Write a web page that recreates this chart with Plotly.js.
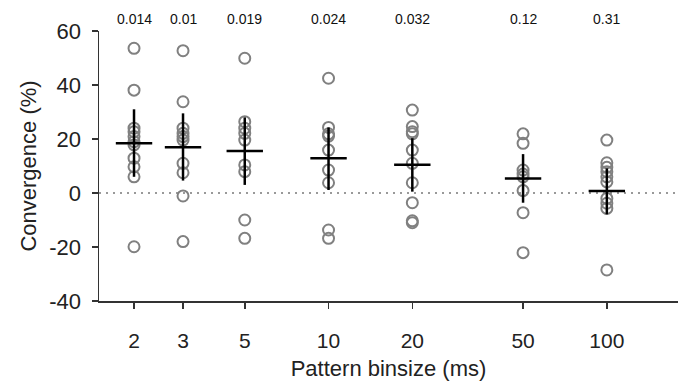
<!DOCTYPE html>
<html>
<head>
<meta charset="utf-8">
<script src="https://cdn.plot.ly/plotly-3.0.1.min.js"></script>
<style>html,body{margin:0;padding:0;background:#fff;}#chart{width:678px;height:388px;}</style>
</head>
<body>
<div id="chart"></div>
<script>
// Data
const binsizes = [2, 3, 5, 10, 20, 50, 100];
const conv_2   = [53.6, 38.1, 24.0, 22.7, 20.9, 19.0, 17.8, 12.9, 9.7, 6.0, -19.9];
const conv_3   = [52.7, 33.8, 24.0, 22.1, 20.9, 19.6, 11.0, 7.5, -1.1, -18.0];
const conv_5   = [49.9, 26.4, 24.0, 22.1, 19.6, 10.4, 7.9, -10.0, -16.8];
const conv_10  = [42.5, 24.3, 21.9, 21.1, 15.9, 8.5, 3.8, -13.7, -16.8];
const conv_20  = [30.7, 24.6, 22.7, 21.9, 15.9, 11.0, 3.8, -3.6, -10.3, -11.0];
const conv_50  = [21.9, 18.4, 8.5, 7.0, 6.0, 0.9, -7.3, -22.1];
const conv_100 = [19.6, 11.2, 9.5, 7.9, 6.0, 4.1, -2.0, -3.8, -5.7, -28.5];
const means    = [18.4, 16.9, 15.6, 12.9, 10.5, 5.4, 0.7];
const ciHigh   = [31.0, 29.5, 28.0, 24.3, 20.3, 14.4, 9.1];
const ciLow    = [6.0, 4.6, 3.0, 1.1, 0.5, -3.6, -7.9];
const pValues  = ["0.014", "0.01", "0.019", "0.024", "0.032", "0.12", "0.31"];
const xTickLabels = ["2", "3", "5", "10", "20", "50", "100"];
const yTickVals   = [-40, -20, 0, 20, 40, 60];
const yTickLabels = ["-40", "-20", "0", "20", "40", "60"];

const groups = [conv_2, conv_3, conv_5, conv_10, conv_20, conv_50, conv_100];
const px = [], py = [];
groups.forEach((g, i) => g.forEach(v => { px.push(binsizes[i]); py.push(v); }));

const FONT = "Liberation Sans, Arial, Helvetica, sans-serif";

const points = {
  type: "scatter", mode: "markers", x: px, y: py, cliponaxis: false,
  marker: { symbol: "circle-open", size: 11, color: "#808080", line: { width: 2, color: "#808080" } },
  hoverinfo: "skip", showlegend: false
};
const meanTrace = {
  type: "scatter", mode: "markers", x: binsizes, y: means, cliponaxis: false,
  marker: { symbol: "line-ew", size: 26, color: "#000", line: { width: 2.5, color: "#000" } },
  error_y: {
    type: "data", symmetric: false,
    array: ciHigh.map((h, i) => h - means[i]),
    arrayminus: ciLow.map((l, i) => means[i] - l),
    color: "#000", thickness: 2.5, width: 0
  },
  hoverinfo: "skip", showlegend: false
};

const annotations = binsizes.map((b, i) => ({
  x: Math.log10(b), xref: "x", y: 1.045, yref: "paper",
  text: pValues[i], showarrow: false, xanchor: "center", yanchor: "middle",
  font: { family: FONT, size: 14, color: "#111" }
}));

const layout = {
  width: 678, height: 388,
  margin: { l: 99, r: 0, t: 31, b: 87, pad: 0 },
  paper_bgcolor: "#fff", plot_bgcolor: "#fff",
  font: { family: FONT, size: 21, color: "#222" },
  showlegend: false,
  xaxis: {
    type: "log", range: [0.1752, 2.2557],
    tickmode: "array", tickvals: binsizes, ticktext: xTickLabels,
    ticks: "outside", ticklen: 6, tickwidth: 1.5, tickcolor: "#333",
    showline: true, linecolor: "#333", linewidth: 1.5,
    showgrid: false, zeroline: false,
    ticklabelstandoff: 14,
    tickfont: { family: FONT, size: 21, color: "#222" },
    title: { text: "Pattern binsize (ms)", font: { family: FONT, size: 22, color: "#222" }, standoff: 10 }
  },
  yaxis: {
    range: [-40, 60], tickmode: "array", tickvals: yTickVals, ticktext: yTickLabels,
    ticks: "outside", ticklen: 6, tickwidth: 1.5, tickcolor: "#333",
    showline: true, linecolor: "#333", linewidth: 1.5,
    showgrid: false, zeroline: false,
    ticklabelstandoff: 6,
    tickfont: { family: FONT, size: 22, color: "#222" },
    title: { text: "Convergence (%)", font: { family: FONT, size: 22, color: "#222" }, standoff: 6 }
  },
  shapes: [{
    type: "line", xref: "paper", x0: 0, x1: 1, yref: "y", y0: 0, y1: 0,
    line: { color: "#999", width: 2, dash: "2px,5px" }, layer: "below"
  }],
  annotations: annotations
};

Plotly.newPlot("chart", [points, meanTrace], layout, { displayModeBar: false, staticPlot: true });
</script>
</body>
</html>
